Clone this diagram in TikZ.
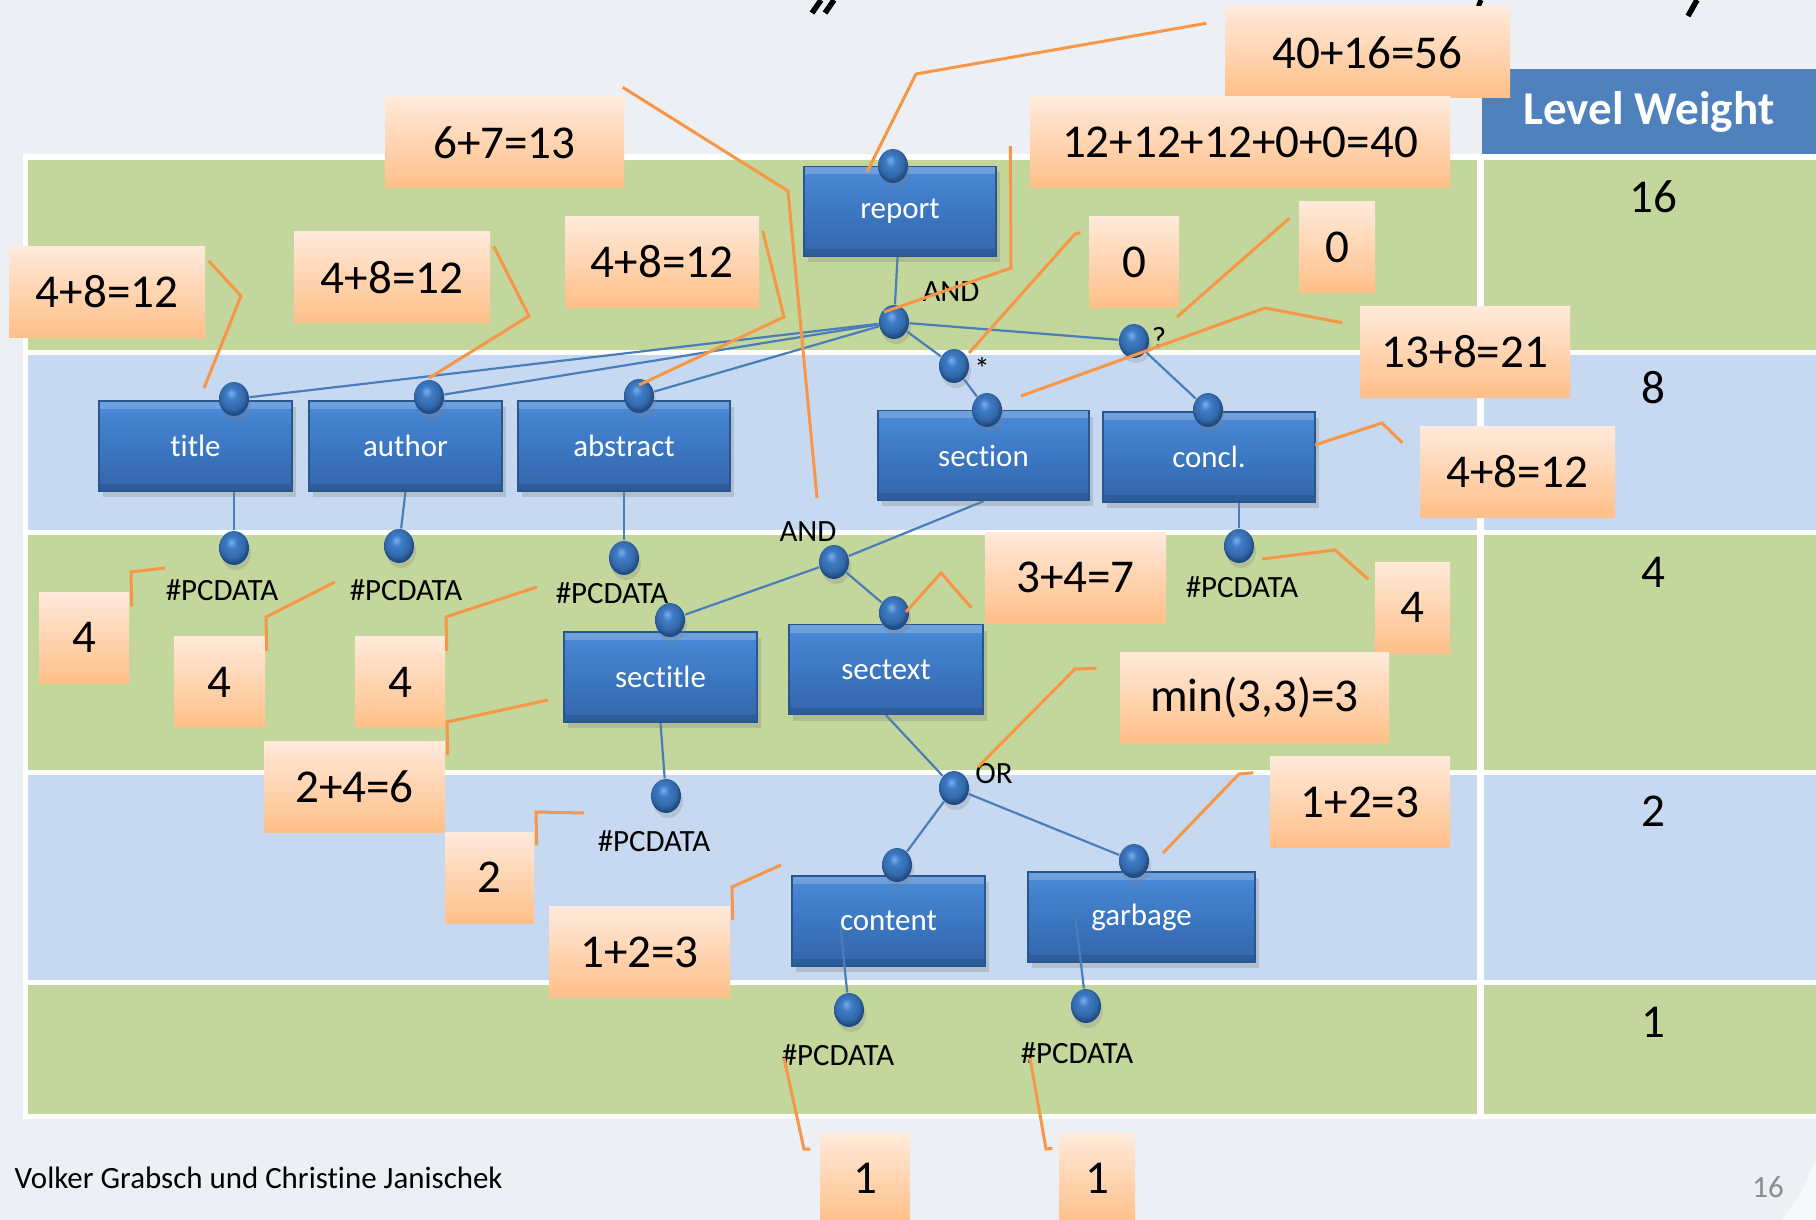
\documentclass[tikz,border=0pt]{standalone}
\usepackage{fontspec}
\setmainfont{Carlito}[Ligatures=NoCommon]
\usepackage{tikz}
\usetikzlibrary{calc, shapes.geometric, shadows}

\definecolor{slide}{HTML}{ECEFF4}
\definecolor{rowgreen}{HTML}{C3D69B}
\definecolor{rowblue}{HTML}{C6D9F0}
\definecolor{headblue}{HTML}{4F81BD}
\definecolor{elemtop}{HTML}{4B8BD8}
\definecolor{elemmid}{HTML}{3C77C2}
\definecolor{elembot}{HTML}{3465AA}
\definecolor{elemedge}{HTML}{2A568E}
\definecolor{wireblue}{HTML}{4A7EBB}
\definecolor{leadorange}{HTML}{F79646}
\definecolor{sumtop}{HTML}{FFEADB}
\definecolor{sumbot}{HTML}{FFBF88}
\definecolor{knobhi}{HTML}{7AAEE8}
\definecolor{knobmid}{HTML}{3D7BC6}
\definecolor{knobdk}{HTML}{1F4C86}
\definecolor{pagenum}{HTML}{8C8C8C}

\pgfdeclareradialshading{knob}{\pgfpoint{-5bp}{9bp}}{%
  color(0bp)=(knobhi); color(9bp)=(knobmid); color(20bp)=(knobmid!85!black);
  color(26bp)=(knobdk); color(50bp)=(knobdk)}

\pgfdeclarelayer{back}
\pgfdeclarelayer{wires}
\pgfsetlayers{back,wires,main}

\newcommand\labelsize{\fontsize{8.8}{10.5}\selectfont}
\newcommand\sumsize{\fontsize{13.4}{16}\selectfont}

\begin{document}
\begin{tikzpicture}[
    x = 0.1mm, y = -0.1mm,
    elem/.style = {draw=elemedge, thin, top color=elemtop, bottom color=elembot,
        middle color=elemmid, text=white, font=\labelsize, inner sep=0pt,
        minimum width=#1, minimum height=9mm,
        drop shadow={shadow xshift=0.4mm, shadow yshift=-0.6mm, opacity=0.3},
        path picture={
          \fill[white, opacity=0.2] (path picture bounding box.north west)
            rectangle ([yshift=-0.8mm]path picture bounding box.north east);
          \fill[black, opacity=0.1] (path picture bounding box.south west)
            rectangle ([yshift=0.7mm]path picture bounding box.south east);
        }},
    knob/.style = {ellipse, shade, shading=knob, inner sep=0pt,
        minimum width=3mm, minimum height=3.4mm,
        drop shadow={shadow xshift=0.2mm, shadow yshift=-0.5mm, opacity=0.25}},
    sumbox/.style = {top color=sumtop, bottom color=sumbot, font=\sumsize,
        inner sep=0pt, minimum width=#1, minimum height=9.1mm},
    tag/.style = {font=\labelsize, inner sep=0pt},
    wire/.style = {draw=wireblue, line width=0.22mm},
    leader/.style = {draw=leadorange, line width=0.3mm}
  ]
  \useasboundingbox (0,0) rectangle (1816,1220);

  % slide, level table
  \begin{pgfonlayer}{back}
    \fill[slide] (0,0) rectangle (1816,1220);
    \fill[white!55!slide] (1781,1220) .. controls (1800,1196) .. (1816,1158) -- (1816,1220) -- cycle;
    \fill[white] (23,154) rectangle (1816,1119);
    \foreach \ya/\yb/\col in {160/350/rowgreen, 355/530/rowblue, 535/770/rowgreen,
        775/980/rowblue, 985/1114/rowgreen} {
      \fill[\col] (27.5,\ya) rectangle (1477,\yb);
      \fill[\col] (1484,\ya) rectangle (1816,\yb);
    }
  \end{pgfonlayer}

  % what is left of the heading
  \draw[line width=0.55mm] (821,0) -- (812,13) (834,0) -- (825,13);
  \draw[line width=0.5mm] (1481,0) .. controls (1477,9) .. (1486,17);
  \draw[line width=0.55mm] (1697,0) -- (1688,16);

  \node[fill=headblue, text=white, font=\sumsize\bfseries, inner sep=0pt,
    minimum width=33.4mm, minimum height=8.5mm] (head) at (1649,111.5) {Level Weight};
  \foreach \w/\y in {16/197, 8/388, 4/572, 2/811, 1/1022}
    \node[font=\sumsize] (lw\w) at (1653,\y) {\w};

  % elements
  \foreach \n/\x/\y/\w/\t in {report/900/211.5/19.2mm/report, title/195.5/446/19.3mm/title,
      author/405.5/446/19.3mm/author, abstract/624/446/21.2mm/abstract,
      section/983.5/455.5/21.1mm/section, concl/1209/457/21.2mm/concl.,
      sectitle/660.5/677/19.3mm/sectitle, sectext/886/669.5/19.4mm/sectext,
      content/888.5/921/19.3mm/content, garbage/1141.5/917/22.7mm/garbage}
    \node[elem=\w] (\n) at (\x,\y) {\t};

  \foreach \n/\x/\y in {kReport/893/166, kAnd/894/322, kStar/954/366, kOpt/1134/341,
      kTitle/234/399, kAuthor/429/397, kAbstract/639/396, kSection/987/410,
      kConcl/1208/410, pTitle/234/548, pAuthor/399/546, pAbstract/624/558,
      pConcl/1239/546, kSeq/834/562, kSectitle/670/620, kSectext/894/613,
      pSectitle/666/796, kOr/954/788, kContent/897/865, kGarbage/1134/861,
      pContent/849/1010, pGarbage/1086/1006}
    \node[knob] (\n) at (\x,\y) {};

  \node[tag] (andTop) at (951,292) {AND};
  \node[tag] (starLbl) at (982,369) {*};
  \node[tag] (optLbl) at (1159,338) {?};
  \node[tag] (andSec) at (808,532) {AND};
  \node[tag] (orLbl) at (994,774) {OR};

  \foreach \n/\x/\y in {tTitle/222/590, tAuthor/406/590, tAbstract/612/593,
      tConcl/1242/587, tSectitle/654/841, tContent/838/1055, tGarbage/1077/1053}
    \node[tag] (\n) at (\x,\y) {\#PCDATA};

  \begin{pgfonlayer}{wires}
    \draw[wire] (report) -- (kAnd);
    \foreach \k in {kTitle, kAuthor, kAbstract, kStar, kOpt}
      \draw[wire] (kAnd) -- (\k);
    \draw[wire] (kStar) -- (kSection);
    \draw[wire] (kOpt) -- (kConcl);
    \draw[wire] (pTitle) -- (pTitle |- title.south);
    \draw[wire] (author.south) -- (pAuthor);
    \draw[wire] (abstract.south) -- (pAbstract);
    \draw[wire] (pConcl) -- (pConcl |- concl.south);
    \draw[wire] (section.south) -- (kSeq) -- (kSectitle);
    \draw[wire] (kSeq) -- (kSectext);
    \draw[wire] (sectitle.south) -- (pSectitle);
    \draw[wire] (sectext.south) -- (kOr);
    \draw[wire] (kOr) -- (kContent);
    \draw[wire] (kOr) -- (kGarbage);
  \end{pgfonlayer}
  \draw[wire] ($(content.center)+(-48,6)$) -- (pContent);
  \draw[wire] ($(garbage.center)+(-66,1)$) -- (pGarbage);

  % weights
  \foreach \n/\x/\y/\w/\t in {sumA/1367.5/52.5/28.5mm/40+16=56,
      sumB/1240/142.5/42mm/12+12+12+0+0=40, sumC/504.5/142.5/23.9mm/6+7=13,
      wTitle/107/292/19.6mm/4+8=12, wAuthor/392/277.5/19.6mm/4+8=12,
      wAbstract/662/262/19.4mm/4+8=12, zeroStar/1134/262/9mm/0,
      zeroOpt/1337/247.5/7.6mm/0, wSection/1465/352/21mm/13+8=21,
      wConcl/1517.5/472/19.5mm/4+8=12, wSectext/1075.5/577.5/18.1mm/3+4=7,
      wPcConcl/1412.5/607.5/7.5mm/4, wOr/1254.5/697.5/26.9mm/{min(3,3)=3},
      wGarbage/1360/802/18mm/1+2=3, wPcTitle/84/637.5/9mm/4,
      wPcAuthor/219.5/682/9.1mm/4, wPcAbstract/400/682/9mm/4,
      wSectitle/354.5/787/18.1mm/2+4=6, wPcSectitle/489.5/877.5/8.9mm/2,
      wContent/639.5/952/18.1mm/1+2=3, wPcContent/865/1178.5/9mm/1,
      wPcGarbage/1097/1178.5/7.6mm/1}
    \node[sumbox=\w] (\n) at (\x,\y) {\t};

  \draw[leader] ($(sumA.north west)+(-18,17)$) -- (916,74) -- (867,172);
  \draw[leader] ($(sumC.north east)+(-2,-9)$) -- (788,191) -- (817,498);
  \draw[leader] ($(sumB.west)+(-19,3.5)$) -- (1011,268) -- (884,312);
  \draw[leader] ($(wTitle.north east)+(3,15)$) -- (241,296) -- (204,388);
  \draw[leader] ($(wAuthor.north east)+(3,15)$) -- (529,316) -- (429,378);
  \draw[leader] ($(wAbstract.north east)+(3,15)$) -- (784,317) -- (639,385);
  \draw[leader] ($(zeroStar.north west)+(-8,17)$) -- (1075,234) -- (969,353);
  \draw[leader] ($(zeroOpt.north west)+(-9,17)$) -- (1177,317);
  \draw[leader] ($(wSection.north west)+(-17,17)$) -- (1265,308) -- (1021,396);
  \draw[leader] ($(wConcl.north west)+(-17,17)$) -- (1382,423) -- (1315,445);
  \draw[leader] ($(wSectext.south west)+(-13,-16)$) -- (941,573) -- (906,612);
  \draw[leader] ($(wPcConcl.north west)+(-6,18)$) -- (1335,550) -- (1262,559);
  \draw[leader] ($(wOr.north west)+(-23,17)$) -- (1075,669) -- (978,767);
  \draw[leader] ($(wGarbage.north west)+(-16,17)$) -- (1239,774) -- (1163,853);
  \draw[leader] ($(wPcTitle.north east)+(2,15)$) -- (131,572) -- (165,568);
  \draw[leader] ($(wPcAuthor.north east)+(1,15)$) -- (266,617) -- (335,582);
  \draw[leader] ($(wPcAbstract.north east)+(1,15)$) -- (446,617) -- (537,587);
  \draw[leader] ($(wSectitle.north east)+(2,14)$) -- (447,722) -- (548,700);
  \draw[leader] ($(wPcSectitle.north east)+(2,14)$) -- (536,812) -- (584,813);
  \draw[leader] ($(wContent.north east)+(2,14)$) -- (732,887) -- (781,865);
  \draw[leader] ($(wPcContent.north west)+(-9,17)$) -- (804,1149) -- (784,1058);
  \draw[leader] ($(wPcGarbage.north west)+(-6,16)$) -- (1046,1149) -- (1030,1058);

  \node[anchor=base west, tag] (credit) at (14,1188) {Volker Grabsch und Christine Janischek};
  \node[tag, text=pagenum] (pageno) at (1768,1187) {16};
\end{tikzpicture}
\end{document}
